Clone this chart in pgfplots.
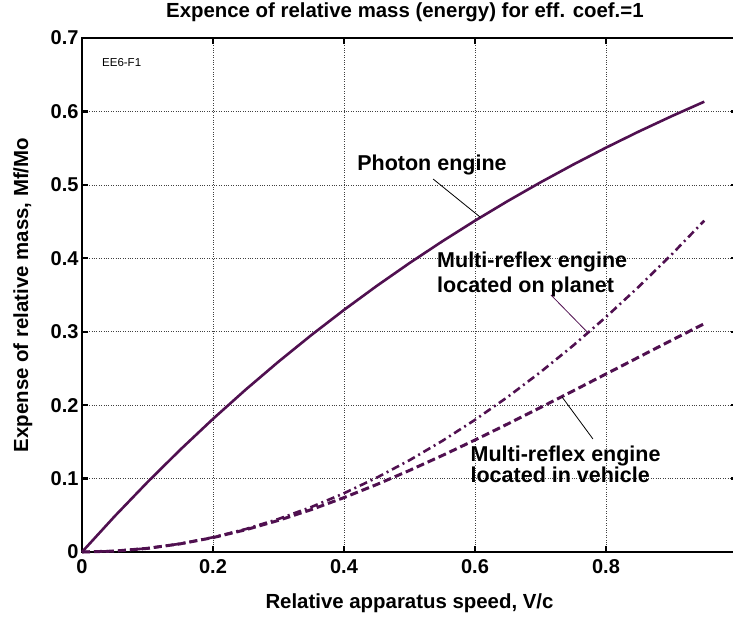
\documentclass[border=0pt]{standalone}
\usepackage{fontspec}
\setmainfont{Liberation Sans}
\usepackage{pgfplots}
\pgfplotsset{compat=1.18}

\definecolor{curve}{RGB}{80,16,80}

\begin{document}
\begin{tikzpicture}
\begin{axis}[
    scale only axis,
    width=655pt, height=514pt,
    xmin=0, xmax=1, ymin=0, ymax=0.7,
    xtick={0,0.2,0.4,0.6,0.8},
    ytick={0,0.1,0.2,0.3,0.4,0.5,0.6,0.7},
    grid=major,
    major grid style={dotted, line width=0.7pt, black!75},
    axis line style={line width=2.6pt},
    tick align=inside,
    major tick length=6pt,
    tick style={line width=2.2pt, black},
    xtick pos=both, ytick pos=both,
    /pgf/number format/assume math mode=true,
    tick label style={font=\bfseries\fontsize{20}{24}\selectfont},
    xticklabel style={yshift=-4pt},
    title={Expence of relative mass (energy) for eff. coef.=1},
    title style={at={(axis description cs:0.493,1.029)}, anchor=base,
                 font=\bfseries\fontsize{20.4}{24}\selectfont},
    xlabel={Relative apparatus speed, V/c},
    xlabel style={at={(axis description cs:0.5,-0.109)}, anchor=base,
                  font=\bfseries\fontsize{20.4}{24}\selectfont},
    ylabel={Expense of relative mass, Mf/Mo},
    ylabel style={at={(axis description cs:-0.0824,0.5)}, anchor=base,
                  font=\bfseries\fontsize{20.4}{24}\selectfont},
    clip=false,
]
% Photon engine
\addplot[curve, line width=2.6pt] coordinates {
 (0,0) (0.05,0.04877) (0.1,0.09516) (0.15,0.13929) (0.2,0.18127)
 (0.25,0.22120) (0.3,0.25918) (0.35,0.29531) (0.4,0.32968) (0.45,0.36237)
 (0.5,0.39347) (0.55,0.42305) (0.6,0.45119) (0.65,0.47795) (0.7,0.50341)
 (0.75,0.52763) (0.8,0.55067) (0.85,0.57259) (0.9,0.59343) (0.95,0.61326)};
% Multi-reflex engine located on planet
\addplot[curve, line width=2.6pt, dash pattern=on 8pt off 4pt on 2pt off 4pt] coordinates {
 (0,0) (0.05,0.00125) (0.1,0.005) (0.15,0.01125) (0.2,0.02)
 (0.25,0.03125) (0.3,0.045) (0.35,0.06125) (0.4,0.08) (0.45,0.10125)
 (0.5,0.125) (0.55,0.15125) (0.6,0.18) (0.65,0.21125) (0.7,0.245)
 (0.75,0.28125) (0.8,0.32) (0.85,0.36125) (0.9,0.405) (0.95,0.45125)};
% Multi-reflex engine located in vehicle
\addplot[curve, line width=3pt, dash pattern=on 8pt off 4pt] coordinates {
 (0,0) (0.05,0.00125) (0.1,0.004975) (0.15,0.01112) (0.2,0.01961)
 (0.25,0.03030) (0.3,0.04306) (0.35,0.05771) (0.4,0.07407) (0.45,0.09194)
 (0.5,0.11111) (0.55,0.13138) (0.6,0.15254) (0.65,0.17441) (0.7,0.19679)
 (0.75,0.21951) (0.8,0.24242) (0.85,0.26538) (0.9,0.28826) (0.95,0.31094)};

\node[anchor=base west, inner sep=0, font=\fontsize{11.5}{14}\selectfont]
  at (axis cs:0.0305,0.661) {EE6-F1};

\node[anchor=base west, inner sep=0, font=\bfseries\fontsize{21.5}{24}\selectfont]
  at (axis cs:0.42,0.520) {Photon engine};
\draw[black, line width=0.8pt] (axis cs:0.536,0.508) -- (axis cs:0.608,0.456);

\node[anchor=base west, inner sep=0, font=\bfseries\fontsize{21.5}{24}\selectfont]
  at (axis cs:0.542,0.387) {Multi-reflex engine};
\node[anchor=base west, inner sep=0, font=\bfseries\fontsize{21.5}{24}\selectfont]
  at (axis cs:0.542,0.354) {located on planet};
\draw[curve, line width=0.8pt] (axis cs:0.716,0.350) -- (axis cs:0.773,0.298);

\node[anchor=base west, inner sep=0, font=\bfseries\fontsize{21.5}{24}\selectfont]
  at (axis cs:0.593,0.123) {Multi-reflex engine};
\node[anchor=base west, inner sep=0, font=\bfseries\fontsize{21.5}{24}\selectfont]
  at (axis cs:0.593,0.094) {located in vehicle};
\draw[black, line width=0.8pt] (axis cs:0.733,0.211) -- (axis cs:0.780,0.154);
\end{axis}
\pgfresetboundingbox
\path ([xshift=-82pt,yshift=-64pt]current axis.south west) rectangle ([xshift=-4pt,yshift=38pt]current axis.north east);
\end{tikzpicture}
\end{document}
